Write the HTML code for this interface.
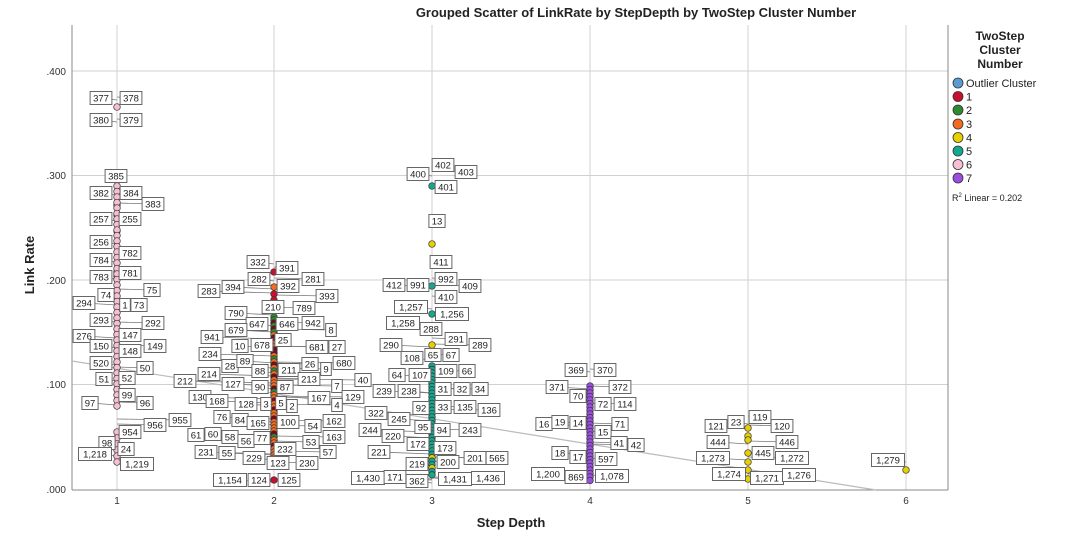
<!DOCTYPE html>
<html><head><meta charset="utf-8"><style>
body{margin:0;background:#fff;}
svg{display:block;font-family:"Liberation Sans",sans-serif;}
</style></head><body>
<svg id="s" width="1090" height="546" xmlns="http://www.w3.org/2000/svg">
<text x="636" y="17" text-anchor="middle" font-size="13" font-weight="bold" fill="#222">Grouped Scatter of LinkRate by StepDepth by TwoStep Cluster Number</text>
<g stroke="#d0d0d0" stroke-width="1">
<line x1="117" y1="25" x2="117" y2="490"/><line x1="274" y1="25" x2="274" y2="490"/><line x1="432" y1="25" x2="432" y2="490"/><line x1="590" y1="25" x2="590" y2="490"/><line x1="748" y1="25" x2="748" y2="490"/><line x1="906" y1="25" x2="906" y2="490"/>
<line x1="72" y1="71" x2="948" y2="71"/><line x1="72" y1="175.5" x2="948" y2="175.5"/><line x1="72" y1="280" x2="948" y2="280"/><line x1="72" y1="384.5" x2="948" y2="384.5"/>
</g>
<g stroke="#888" stroke-width="1"><line x1="72" y1="25" x2="72" y2="490"/><line x1="72" y1="490" x2="948" y2="490"/><line x1="948" y1="25" x2="948" y2="490"/></g>
<g font-size="10" fill="#333" text-anchor="end">
<text x="66" y="75">.400</text><text x="66" y="179">.300</text><text x="66" y="284">.200</text><text x="66" y="388">.100</text><text x="66" y="493">.000</text>
</g>
<g font-size="10" fill="#333" text-anchor="middle">
<text x="117" y="504">1</text><text x="274" y="504">2</text><text x="432" y="504">3</text><text x="590" y="504">4</text><text x="748" y="504">5</text><text x="906" y="504">6</text>
</g>
<text x="511" y="527" text-anchor="middle" font-size="13" font-weight="bold" fill="#222">Step Depth</text>
<text transform="translate(34,265) rotate(-90)" text-anchor="middle" font-size="13" font-weight="bold" fill="#222">Link Rate</text>
<line x1="72" y1="361" x2="876" y2="490" stroke="#bbb" stroke-width="1.2"/>
<g id="lines" stroke="#777" stroke-width="0.8"></g>
<g id="pts"></g>
<g id="labs"></g>
<g font-size="12" font-weight="bold" fill="#222" text-anchor="middle">
<text x="1000" y="40">TwoStep</text><text x="1000" y="54">Cluster</text><text x="1000" y="68">Number</text>
</g>
<g stroke="#333" stroke-width="0.8">
<circle cx="958" cy="83" r="5" fill="#5b9bd5"/><circle cx="958" cy="96.5" r="5" fill="#c8102e"/><circle cx="958" cy="110" r="5" fill="#2e8b2e"/><circle cx="958" cy="124" r="5" fill="#f26b21"/><circle cx="958" cy="137.5" r="5" fill="#e8d000"/><circle cx="958" cy="151" r="5" fill="#14a88f"/><circle cx="958" cy="164.5" r="5" fill="#f7bfd3"/><circle cx="958" cy="178" r="5" fill="#9b4de0"/>
</g>
<g font-size="11" fill="#222">
<text x="966" y="87">Outlier Cluster</text><text x="966" y="100.5">1</text><text x="966" y="114">2</text><text x="966" y="128">3</text><text x="966" y="141.5">4</text><text x="966" y="155">5</text><text x="966" y="168.5">6</text><text x="966" y="182">7</text>
<text x="952" y="201" font-size="9">R<tspan font-size="6" dy="-4">2</tspan><tspan dy="4"> Linear = 0.202</tspan></text>
</g>
</svg>
<script>
var NS="http://www.w3.org/2000/svg";
function el(t,a,p){var e=document.createElementNS(NS,t);for(var k in a)e.setAttribute(k,a[k]);p.appendChild(e);return e;}
var pts=document.getElementById("pts"),labs=document.getElementById("labs"),lines=document.getElementById("lines");
var C={r:"#c8102e",g:"#2e8b2e",o:"#f26b21",y:"#e8d000",t:"#14a88f",p:"#f7bfd3",v:"#9b4de0",m:"#7a0a1e"};
function P(x,y,c){el("circle",{cx:x,cy:y,r:3.3,fill:C[c],stroke:"#333","stroke-width":0.7},pts);}
// column 1
P(117,107,"p");P(117,272,"p");P(117,276,"p");P(117,231,"p");P(117,215,"p");P(117,205,"p");
for(var y=186;y<=410;y+=5.5)P(117,y,"p");
for(var y=432;y<=462;y+=6)P(117,y,"p");
// column 2
P(274,272,"r");P(274,287,"o");P(274,294,"r");P(274,300,"r");P(274,311,"m");
var c2="ggmgmgommoommogomogomooomgoomoomoomoooomgoomoooogoooogooo";
var i=0;for(var y=317;y<=462;y+=3){P(274,y,c2[i%c2.length]);i++;}
P(274,480,"r");
// column 3
P(432,186,"t");P(432,244,"y");P(432,286,"t");P(432,314,"t");P(432,345,"y");
var j=0;for(var y=366;y<=478;y+=3.4){var c="t";if(y>451&&j%3==0)c="y";P(432,y,c);j++;}
// column 4
for(var y=386;y<=482;y+=3.5)P(590,y,"v");
// column 5
P(748,428,"y");P(748,436,"y");P(748,440,"y");P(748,453,"y");P(748,462,"y");P(748,470,"y");P(748,479,"y");
P(906,470,"y");
var L=[
[1,"377",101,98],[1,"378",131,98],[1,"380",101,120],[1,"379",131,120],[1,"385",116,176],[1,"382",101,193],[1,"384",131,193],[1,"383",153,204],[1,"257",101,219],[1,"255",130,219],[1,"256",101,242],[1,"782",130,253],[1,"784",101,260],[1,"781",130,273],[1,"783",101,277],[1,"75",152,290],[1,"74",106,295],[1,"294",84,303],[1,"1",125,305],[1,"73",139,305],[1,"292",153,323],[1,"293",101,320],[1,"276",84,336],[1,"147",130,335],[1,"149",155,346],[1,"150",101,346],[1,"148",130,351],[1,"50",145,368],[1,"520",101,363],[1,"51",104,379],[1,"52",127,378],[1,"99",127,395],[1,"97",90,403],[1,"96",145,403],[1,"954",130,432],[1,"956",155,425],[1,"98",107,443],[1,"24",126,449],[1,"1,218",95,454],[1,"1,219",137,464],[1,"955",180,420],
[2,"332",258,262],[2,"391",287,268],[2,"282",259,279],[2,"394",233,287],[2,"283",209,291],[2,"281",313,279],[2,"392",288,286],[2,"393",327,296],[2,"210",273,307],[2,"789",304,308],[2,"790",236,313],[2,"647",257,324],[2,"646",287,324],[2,"942",313,323],[2,"8",331,330],[2,"679",236,330],[2,"941",212,337],[2,"10",240,346],[2,"678",262,345],[2,"25",283,340],[2,"681",317,347],[2,"27",337,347],[2,"234",210,354],[2,"28",230,366],[2,"89",245,361],[2,"26",310,364],[2,"9",326,369],[2,"680",344,363],[2,"88",260,371],[2,"211",289,370],[2,"214",209,374],[2,"213",309,379],[2,"212",185,381],[2,"127",233,384],[2,"90",260,387],[2,"87",285,387],[2,"40",363,380],[2,"7",337,386],[2,"130",200,397],[2,"168",217,401],[2,"128",246,404],[2,"3",266,404],[2,"5",281,403],[2,"2",292,406],[2,"167",319,398],[2,"129",353,397],[2,"4",337,405],[2,"76",222,417],[2,"84",240,420],[2,"165",258,423],[2,"100",288,422],[2,"54",313,426],[2,"162",334,421],[2,"61",196,435],[2,"60",213,434],[2,"58",230,437],[2,"56",246,441],[2,"77",262,438],[2,"53",311,442],[2,"163",334,437],[2,"231",206,452],[2,"55",227,453],[2,"229",254,458],[2,"232",285,449],[2,"57",328,452],[2,"123",278,463],[2,"230",307,463],[2,"1,154",230,480],[2,"124",259,480],[2,"125",289,480],
[3,"402",443,165],[3,"403",466,172],[3,"400",418,174],[3,"401",446,187],[3,"13",437,221],[3,"411",441,262],[3,"992",446,279],[3,"412",394,285],[3,"991",418,285],[3,"409",470,286],[3,"410",446,297],[3,"1,257",411,307],[3,"1,256",452,314],[3,"1,258",403,323],[3,"288",431,329],[3,"291",456,339],[3,"289",480,345],[3,"290",391,345],[3,"108",412,358],[3,"65",433,355],[3,"67",451,355],[3,"64",397,375],[3,"107",420,375],[3,"109",446,371],[3,"66",467,371],[3,"239",384,391],[3,"238",409,391],[3,"31",443,389],[3,"32",462,389],[3,"34",480,389],[3,"322",376,413],[3,"92",421,408],[3,"33",443,407],[3,"135",465,407],[3,"136",489,410],[3,"245",399,419],[3,"95",423,427],[3,"244",370,430],[3,"220",393,436],[3,"94",442,430],[3,"243",470,430],[3,"172",418,444],[3,"173",445,448],[3,"221",379,452],[3,"219",417,464],[3,"200",448,462],[3,"201",475,458],[3,"565",497,458],[3,"1,430",368,478],[3,"171",395,477],[3,"362",417,481],[3,"1,431",455,479],[3,"1,436",488,478],
[4,"369",576,370],[4,"370",605,370],[4,"371",557,387],[4,"372",620,387],[4,"70",578,396],[4,"72",603,404],[4,"114",625,404],[4,"16",544,424],[4,"19",560,422],[4,"14",578,423],[4,"15",603,432],[4,"71",620,424],[4,"41",619,443],[4,"42",636,445],[4,"18",560,453],[4,"17",578,457],[4,"597",606,459],[4,"1,200",548,474],[4,"869",576,477],[4,"1,078",612,476],
[5,"121",716,426],[5,"23",736,422],[5,"119",760,417],[5,"120",782,426],[5,"444",718,442],[5,"446",787,442],[5,"445",763,453],[5,"1,273",713,458],[5,"1,272",792,458],[5,"1,274",729,474],[5,"1,271",767,478],[5,"1,276",799,475],[6,"1,279",888,460]
];
var CX={1:117,2:274,3:432,4:590,5:748,6:906};
L.forEach(function(l){var cx=CX[l[0]],x=l[2],y=l[3];
 el("line",{x1:x,y1:y,x2:cx,y2:y+((x<cx)?2:-1)},lines);});
L.forEach(function(l){var t=l[1],x=l[2],y=l[3],w=t.length*5.6+5;
 el("rect",{x:x-w/2,y:y-6.5,width:w,height:13,fill:"#fff",stroke:"#666","stroke-width":1},labs);
 var e=el("text",{x:x,y:y+3.5,"font-size":"9.5","text-anchor":"middle",fill:"#222"},labs);e.textContent=t;});
</script>
</body></html>
